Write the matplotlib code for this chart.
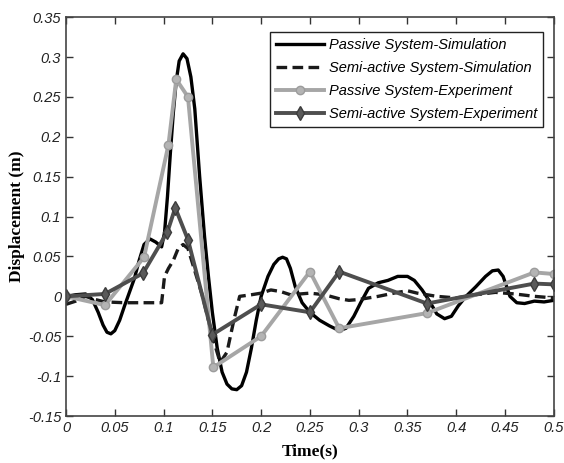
import matplotlib
matplotlib.use("agg")

import matplotlib.pyplot as plt
import numpy as np


# Passive system - simulation (black solid)
t_ps = [0.0, 0.01, 0.02, 0.027, 0.033, 0.038, 0.042, 0.046, 0.05, 0.055, 0.06, 0.065,
        0.07, 0.075, 0.08, 0.086, 0.092, 0.098, 0.101, 0.104, 0.107, 0.11, 0.113,
        0.116, 0.12, 0.124, 0.128, 0.132, 0.137, 0.142, 0.146, 0.15, 0.155, 0.16,
        0.165, 0.17, 0.175, 0.18, 0.185, 0.19, 0.195, 0.2, 0.207, 0.213, 0.218,
        0.222, 0.226, 0.23, 0.235, 0.242, 0.25, 0.26, 0.27, 0.28, 0.287, 0.295,
        0.302, 0.31, 0.32, 0.33, 0.34, 0.35, 0.357, 0.365, 0.372, 0.38, 0.388,
        0.395, 0.402, 0.41, 0.42, 0.43, 0.437, 0.443, 0.448, 0.455, 0.462, 0.47,
        0.48, 0.49, 0.5]
y_ps = [0.0, 0.002, 0.003, -0.004, -0.02, -0.036, -0.045, -0.047, -0.043, -0.03, -0.012, 0.005,
        0.022, 0.045, 0.065, 0.072, 0.068, 0.062, 0.08, 0.125, 0.18, 0.23, 0.27,
        0.295, 0.304, 0.298, 0.275, 0.235, 0.15, 0.075, 0.025, -0.02, -0.065, -0.095,
        -0.11, -0.116, -0.117, -0.112, -0.095, -0.065, -0.03, 0.0, 0.025, 0.04, 0.047,
        0.049, 0.047, 0.035, 0.012, -0.008, -0.02, -0.03, -0.037, -0.043, -0.04, -0.025,
        -0.008, 0.01, 0.017, 0.02, 0.025, 0.025, 0.02, 0.008, -0.005, -0.022, -0.028,
        -0.025, -0.012, 0.0, 0.012, 0.025, 0.032, 0.033, 0.025, 0.0, -0.008, -0.009,
        -0.006, -0.007, -0.005]

# Semi-active system - simulation (black dashed)
t_ss = [0.0, 0.01, 0.02, 0.03, 0.04, 0.06, 0.08, 0.098, 0.101, 0.105, 0.11, 0.115,
        0.12, 0.125, 0.13, 0.14, 0.15, 0.158, 0.165, 0.172, 0.178, 0.19, 0.2, 0.21,
        0.22, 0.23, 0.25, 0.265, 0.28, 0.29, 0.3, 0.32, 0.34, 0.35, 0.36, 0.38,
        0.4, 0.42, 0.44, 0.46, 0.48, 0.5]
y_ss = [-0.01, -0.006, 0.0, -0.004, -0.007, -0.008, -0.008, -0.008, 0.025, 0.035, 0.045, 0.06,
        0.065, 0.06, 0.04, 0.0, -0.05, -0.083, -0.07, -0.03, 0.0, 0.002, 0.004, 0.008,
        0.006, 0.002, 0.004, 0.002, -0.003, -0.005, -0.004, 0.0, 0.005, 0.007, 0.004, 0.0,
        -0.002, 0.002, 0.005, 0.003, 0.0, -0.002]

# Passive system - experiment (light grey, circles)
t_pe = [0.0, 0.04, 0.08, 0.105, 0.113, 0.125, 0.151, 0.2, 0.25, 0.28, 0.37, 0.48, 0.5]
y_pe = [0.0, -0.011, 0.049, 0.19, 0.272, 0.25, -0.089, -0.05, 0.031, -0.04, -0.021, 0.03, 0.028]

# Semi-active system - experiment (dark grey, diamonds)
t_se = [0.0, 0.04, 0.079, 0.104, 0.112, 0.125, 0.15, 0.2, 0.25, 0.28, 0.37, 0.48, 0.5]
y_se = [0.0, 0.003, 0.029, 0.081, 0.111, 0.071, -0.048, -0.01, -0.02, 0.031, -0.009, 0.016, 0.015]

xticks = [0, 0.05, 0.1, 0.15, 0.2, 0.25, 0.3, 0.35, 0.4, 0.45, 0.5]
xtick_labels = ["0", "0.05", "0.1", "0.15", "0.2", "0.25", "0.3", "0.35", "0.4", "0.45", "0.5"]
yticks = [-0.15, -0.1, -0.05, 0, 0.05, 0.1, 0.15, 0.2, 0.25, 0.3, 0.35]
ytick_labels = ["-0.15", "-0.1", "-0.05", "0", "0.05", "0.1", "0.15", "0.2", "0.25", "0.3", "0.35"]

fig = plt.figure(figsize=(5.64, 4.63), dpi=100)
ax = fig.add_axes([0.117, 0.1015, 0.865, 0.8615])

ax.plot(t_ps, y_ps, color="black", lw=2.4, label="Passive System-Simulation")
ax.plot(t_ss, y_ss, color="#1a1a1a", lw=2.4, linestyle=(0, (3.2, 1.6)),
        label="Semi-active System-Simulation")
ax.plot(t_pe, y_pe, color="#a6a6a6", lw=2.8, marker="o", markersize=6,
        markerfacecolor="#b4b4b4", markeredgecolor="#9c9c9c",
        label="Passive System-Experiment")
ax.plot(t_se, y_se, color="#4e4e4e", lw=2.8, marker="d", markersize=7,
        markerfacecolor="#5a5a5a", markeredgecolor="#3c3c3c",
        label="Semi-active System-Experiment")

ax.set_xlim(0, 0.5)
ax.set_ylim(-0.15, 0.35)
ax.set_xticks(xticks)
ax.set_xticklabels(xtick_labels)
ax.set_yticks(yticks)
ax.set_yticklabels(ytick_labels)
ax.tick_params(direction="in", top=True, right=True, length=5, width=1,
               labelsize=10.5, colors="#333333", labelcolor="#222222")
for lab in ax.get_xticklabels() + ax.get_yticklabels():
    lab.set_family("Liberation Sans")
    lab.set_style("italic")
for s in ax.spines.values():
    s.set_color("#444444")
    s.set_linewidth(1.2)

ax.set_xlabel("Time(s)", family="Liberation Serif", fontweight="bold",
              fontsize=12.5, labelpad=6)
ax.set_ylabel("Displacement (m)", family="Liberation Serif", fontweight="bold",
              fontsize=12.5, labelpad=2)

leg = ax.legend(loc="upper right", bbox_to_anchor=(0.993, 0.981), fancybox=False,
                edgecolor="#222222", framealpha=1, handlelength=3.3,
                handletextpad=0.3, labelspacing=0.62, borderpad=0.42,
                prop={"family": "Liberation Sans", "style": "italic", "size": 10.5})
leg.get_frame().set_linewidth(1.0)

fig.savefig("out.png", dpi=100)
